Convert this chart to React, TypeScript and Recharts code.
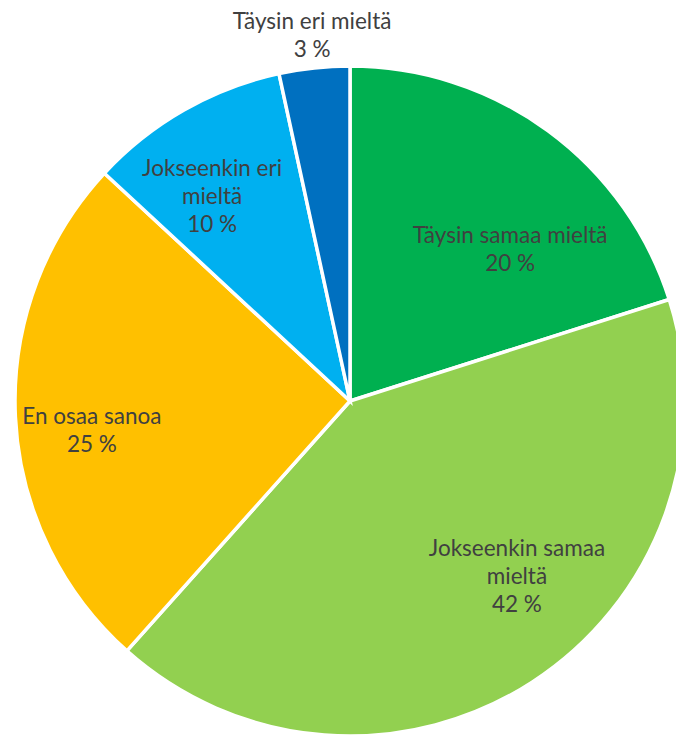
import React from 'react';
import { PieChart, Pie, Cell } from 'recharts';

const categories = ['Täysin samaa mieltä', 'Jokseenkin samaa mieltä', 'En osaa sanoa', 'Jokseenkin eri mieltä', 'Täysin eri mieltä'];
const values = [20.1, 41.5, 25.3, 9.7, 3.4];
const percentLabels = ['20 %', '42 %', '25 %', '10 %', '3 %'];
const labelLines = [
  ['Täysin samaa mieltä'],
  ['Jokseenkin samaa', 'mieltä'],
  ['En osaa sanoa'],
  ['Jokseenkin eri', 'mieltä'],
  ['Täysin eri mieltä'],
];
const colors = ['#00B050', '#92D050', '#FFC000', '#00B0F0', '#0070C0'];
// label placement: polar angle (deg) and radius fraction relative to pie
const labelAngle = [43.7, -46.2, 186.2, 123.8, 95.9];
const labelRadius = [0.661, 0.72, 0.775, 0.74, 1.1];

const data = categories.map((name, i) => ({ name, value: values[i] }));

const RAD = Math.PI / 180;
const LINE_H = 28;

const renderLabel = (props: any) => {
  const { cx, cy, outerRadius, index } = props;
  const a = labelAngle[index] * RAD;
  const r = outerRadius * labelRadius[index];
  const x = cx + r * Math.cos(a);
  const y = cy - r * Math.sin(a);
  const lines = [...labelLines[index], percentLabels[index]];
  const y0 = y - ((lines.length - 1) * LINE_H) / 2;
  return (
    <text
      x={x}
      y={y0}
      textAnchor="middle"
      dominantBaseline="central"
      fill="#404040"
      fontSize={22.5}
      fontFamily="Lato, sans-serif"
    >
      {lines.map((l, i) => (
        <tspan key={i} x={x} dy={i === 0 ? 0 : LINE_H}>
          {l}
        </tspan>
      ))}
    </text>
  );
};

export default function App() {
  return (
    <div style={{ position: 'absolute', left: 0, top: 0 }}>
      <PieChart width={676} height={735} margin={{ top: 0, right: 0, bottom: 0, left: 0 }}>
        <Pie
          data={data}
          dataKey="value"
          cx={350}
          cy={401}
          outerRadius={335}
          startAngle={90}
          endAngle={-270}
          stroke="#FFFFFF"
          strokeWidth={3.5}
          label={renderLabel}
          labelLine={false}
          isAnimationActive={false}
        >
          {data.map((d, i) => (
            <Cell key={d.name} fill={colors[i]} />
          ))}
        </Pie>
      </PieChart>
    </div>
  );
}
